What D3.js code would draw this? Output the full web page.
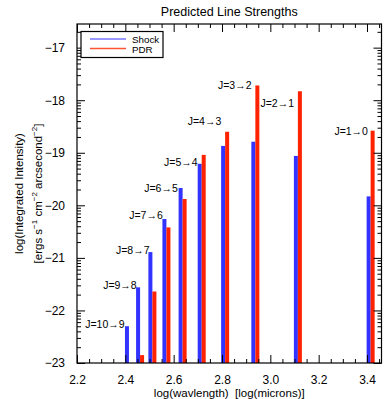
<!DOCTYPE html>
<html><head><meta charset="utf-8">
<script src="https://cdn.jsdelivr.net/npm/d3@7"></script>
<style>
body{margin:0;background:#fff;}
text{font-family:"Liberation Sans",Arial,Helvetica,sans-serif;fill:#000;}
</style></head>
<body><svg id="c" width="385" height="399"></svg>
<script>
// ---- data ----
const transitions = ["J=10\u21929","J=9\u21928","J=8\u21927","J=7\u21926","J=6\u21925","J=5\u21924","J=4\u21923","J=3\u21922","J=2\u21921","J=1\u21920"];
const logWavelength = [2.415, 2.461, 2.512, 2.570, 2.637, 2.716, 2.813, 2.938, 3.114, 3.415];
const shockValues = [-22.30, -21.56, -20.89, -20.26, -19.67, -19.21, -18.87, -18.79, -19.06, -19.83];
const pdrValues   = [-23.40, -22.85, -21.64, -20.42, -19.88, -19.04, -18.60, -17.72, -17.83, -18.58];
const labelX = [2.397, 2.447, 2.500, 2.555, 2.617, 2.699, 2.797, 2.922, 3.098, 3.404];
const labelY = [-22.26, -21.52, -20.85, -20.18, -19.67, -19.17, -18.40, -17.72, -18.06, -18.59];
const xTicks = [2.2, 2.4, 2.6, 2.8, 3.0, 3.2, 3.4];
const yTicks = [-23, -22, -21, -20, -19, -18, -17];
const seriesNames = ["Shock", "PDR"];

const svg = d3.select("#c");
const L = 77, R = 381.5, T = 24, B = 363;
const x = d3.scaleLinear().domain([2.2, 3.46]).range([L, R]);
const y = d3.scaleLinear().domain([-23, -16.55]).range([B, T]);
const blue = "#3333ff", red = "#ff2200";

svg.append("clipPath").attr("id","pc").append("rect")
  .attr("x", L).attr("y", T).attr("width", R-L).attr("height", B-T);

// bars
const bw = 4;
const g = svg.append("g").attr("clip-path","url(#pc)");
g.selectAll("rect.s").data(logWavelength).enter().append("rect")
  .attr("x", d => x(d) - bw).attr("width", bw)
  .attr("y", (d,i) => y(shockValues[i])).attr("height", (d,i) => Math.max(0, B - y(shockValues[i])))
  .attr("fill", blue);
g.selectAll("rect.p").data(logWavelength).enter().append("rect")
  .attr("x", d => x(d)).attr("width", bw)
  .attr("y", (d,i) => y(pdrValues[i])).attr("height", (d,i) => Math.max(0, B - y(pdrValues[i])))
  .attr("fill", red);

// labels
svg.selectAll("text.lab").data(transitions).enter().append("text")
  .attr("x", (d,i) => x(labelX[i])).attr("y", (d,i) => y(labelY[i]) + 4)
  .attr("text-anchor","end").attr("font-size", 10.5).text(d => d);

// frame
svg.append("rect").attr("x", L).attr("y", T).attr("width", R-L).attr("height", B-T)
  .attr("fill","none").attr("stroke","#000").attr("stroke-width",1.2);

// x axis bottom & top
const xMinor = d3.range(2.2, 3.46, 0.05).filter(v => Math.abs(v*5 - Math.round(v*5)) > 1e-6);
const xb = d3.axisBottom(x).tickValues(xTicks).tickFormat(d3.format(".1f")).tickSizeInner(-8).tickSizeOuter(0).tickPadding(12);
const gx = svg.append("g").attr("transform",`translate(0,${B})`).call(xb);
gx.select(".domain").remove();
gx.selectAll("text").attr("font-size", 12);
const gxm = svg.append("g").attr("transform",`translate(0,${B})`).call(d3.axisBottom(x).tickValues(xMinor).tickFormat("").tickSizeInner(-4).tickSizeOuter(0));
gxm.select(".domain").remove();
const gxt = svg.append("g").attr("transform",`translate(0,${T})`).call(d3.axisTop(x).tickValues(xTicks).tickFormat("").tickSizeInner(-8).tickSizeOuter(0));
gxt.select(".domain").remove();
const gxtm = svg.append("g").attr("transform",`translate(0,${T})`).call(d3.axisTop(x).tickValues(xMinor).tickFormat("").tickSizeInner(-4).tickSizeOuter(0));
gxtm.select(".domain").remove();

// y axis left & right with log-style minor ticks
const yMinor = [];
for (let n = -23; n <= -17; n++) for (let k = 2; k <= 9; k++) { const v = n + Math.log10(k); if (v <= -16.55) yMinor.push(v); }
const fmt = d => "\u2212" + Math.abs(d);
const gy = svg.append("g").attr("transform",`translate(${L},0)`).call(d3.axisLeft(y).tickValues(yTicks).tickFormat(fmt).tickSizeInner(-8).tickSizeOuter(0).tickPadding(12));
gy.select(".domain").remove();
gy.selectAll("text").attr("font-size", 12);
const gym = svg.append("g").attr("transform",`translate(${L},0)`).call(d3.axisLeft(y).tickValues(yMinor).tickFormat("").tickSizeInner(-4).tickSizeOuter(0));
gym.select(".domain").remove();
const gyr = svg.append("g").attr("transform",`translate(${R},0)`).call(d3.axisRight(y).tickValues(yTicks).tickFormat("").tickSizeInner(-8).tickSizeOuter(0));
gyr.select(".domain").remove();
const gyrm = svg.append("g").attr("transform",`translate(${R},0)`).call(d3.axisRight(y).tickValues(yMinor).tickFormat("").tickSizeInner(-4).tickSizeOuter(0));
gyrm.select(".domain").remove();
svg.selectAll(".tick line").attr("stroke","#000").attr("stroke-width",1);

// title
svg.append("text").attr("x", (L+R)/2).attr("y", 16).attr("text-anchor","middle").attr("font-size", 12.5).text("Predicted Line Strengths");
// x title
svg.append("text").attr("x", (L+R)/2).attr("y", 397).attr("text-anchor","middle").attr("font-size", 11.5).text("log(wavlength)\u00a0\u00a0[log(microns)]");
// y title
const cy = (T+B)/2;
svg.append("text").attr("transform",`translate(23,${cy}) rotate(-90)`).attr("text-anchor","middle").attr("font-size", 11.5).text("log(Integrated Intensity)");
const t2 = svg.append("text").attr("transform",`translate(42,${cy}) rotate(-90)`).attr("text-anchor","middle").attr("font-size", 11.5);
t2.append("tspan").text("[ergs s");
t2.append("tspan").attr("dy",-5).attr("font-size",8).text("\u22121");
t2.append("tspan").attr("dy",5).text(" cm");
t2.append("tspan").attr("dy",-5).attr("font-size",8).text("\u22122");
t2.append("tspan").attr("dy",5).text(" arcsecond");
t2.append("tspan").attr("dy",-5).attr("font-size",8).text("\u22122");
t2.append("tspan").attr("dy",5).text("]");

// legend
const lg = svg.append("g");
lg.append("rect").attr("x", 81).attr("y", 31.5).attr("width", 82).attr("height", 26).attr("fill","#fff").attr("stroke","#000").attr("stroke-width",1.2);
const legColors = ["#3333ff", "#ff5533"];
seriesNames.forEach((s,i) => {
  lg.append("line").attr("x1", 90).attr("x2", 126).attr("y1", 39 + i*9.5).attr("y2", 39 + i*9.5).attr("stroke", legColors[i]).attr("stroke-width", i ? 1.6 : 1.2);
  lg.append("text").attr("x", 132).attr("y", 42.5 + i*10.5).attr("font-size", 9.8).text(s);
});
</script></body></html>
